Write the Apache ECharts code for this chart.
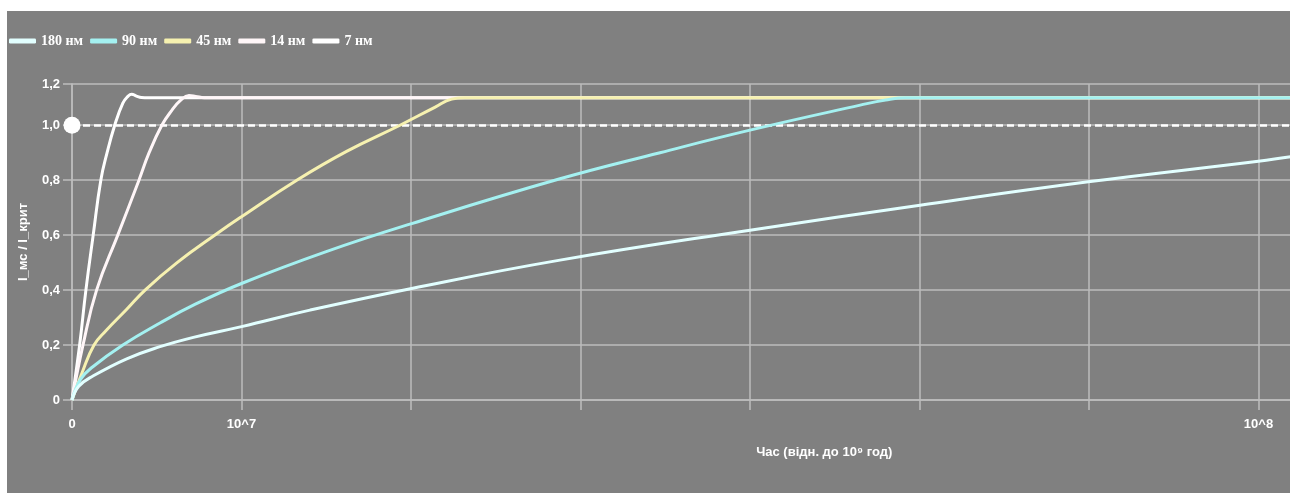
<!DOCTYPE html>
<html>
<head>
<meta charset="utf-8">
<script src="https://cdn.jsdelivr.net/npm/echarts@6/dist/echarts.min.js"></script>
<style>
html,body{margin:0;padding:0;background:#ffffff;overflow:hidden;width:1290px;height:493px;}
#c{position:absolute;left:7px;top:11px;width:1300px;height:482px;background:#808080;}
</style>
</head>
<body>
<div id="c"></div>
<script>
// ---- data (x in axis tick units, y = I_мс / I_крит) ----
var seriesNames = ['180 нм', '90 нм', '45 нм', '14 нм', '7 нм'];
var s180 = [[0,0],[0.04,0.05],[0.126,0.088],[0.323,0.15],[0.519,0.194],[0.716,0.228],[1.0,0.267],[1.404,0.327],[2.004,0.406],[2.879,0.509],[4.0,0.618],[5.003,0.709],[5.996,0.794],[6.999,0.869],[7.2,0.886]];
var s90 = [[0,0],[0.05,0.075],[0.121,0.12],[0.3,0.2],[0.519,0.28],[0.716,0.345],[1.0,0.424],[1.5,0.54],[2.004,0.642],[2.879,0.805],[3.469,0.9],[4.0,0.982],[4.65,1.073],[4.8,1.092],[4.92,1.1],[5.3,1.1],[7.2,1.1]];
var s45 = [[0,0],[0.06,0.1],[0.13,0.2],[0.2,0.252],[0.323,0.33],[0.431,0.4],[0.62,0.5],[0.854,0.605],[1.0,0.667],[1.326,0.8],[1.62,0.905],[1.935,1.0],[2.14,1.065],[2.24,1.095],[2.32,1.1],[2.6,1.1],[7.2,1.1]];
var s14 = [[0,0],[0.065,0.2],[0.145,0.4],[0.27,0.6],[0.395,0.8],[0.455,0.9],[0.53,1.0],[0.59,1.055],[0.64,1.09],[0.69,1.108],[0.73,1.105],[0.78,1.1],[0.9,1.1],[7.2,1.1]];
var s7 = [[0,0],[0.045,0.2],[0.082,0.4],[0.125,0.6],[0.17,0.8],[0.207,0.9],[0.252,1.0],[0.3,1.08],[0.33,1.105],[0.352,1.113],[0.38,1.106],[0.41,1.101],[0.45,1.1],[0.55,1.1],[7.2,1.1]];
var criticalLevel = 1.0;
var xTickValues = [0, 1, 7];
var xTickLabels = ['0', '10^7', '10^8'];
var yTickValues = [0, 0.2, 0.4, 0.6, 0.8, 1.0, 1.15];
var yTickLabels = ['0', '0,2', '0,4', '0,6', '0,8', '1,0', '1,2'];
var colors = ['#e2ffff', '#a4f1f1', '#f6f1b0', '#fff6f8', '#ffffff'];

function lookup(vals, labels, v) {
  for (var i = 0; i < vals.length; i++) { if (Math.abs(vals[i] - v) < 1e-6) return labels[i]; }
  return '';
}

var gridColor = '#bdbdbd';
var chart = echarts.init(document.getElementById('c'), null, {renderer: 'canvas'});
var dataSets = [s180, s90, s45, s14, s7];
var series = dataSets.map(function (d, i) {
  return {
    name: seriesNames[i], type: 'line', data: d, smooth: 0.45, showSymbol: false,
    z: 10 - i,
    lineStyle: {color: colors[i], width: 3},
    itemStyle: {color: colors[i]},
    emphasis: {disabled: true}
  };
});
series[4].markLine = {
  silent: true, symbol: ['circle', 'none'], symbolSize: 17,
  label: {show: false},
  lineStyle: {color: '#ffffff', type: [7, 4], width: 2.5},
  itemStyle: {color: '#ffffff'},
  data: [{yAxis: criticalLevel}]
};

var axisFont = {color: '#ffffff', fontFamily: 'Liberation Sans', fontSize: 13, fontWeight: 'bold'};
chart.setOption({
  animation: false,
  backgroundColor: '#808080',
  color: colors,
  legend: {
    left: 2, top: 23, padding: 0, icon: 'roundRect', itemWidth: 27, itemHeight: 5, itemGap: 7,
    textStyle: {color: '#ffffff', fontFamily: 'Liberation Serif', fontSize: 14, fontWeight: 'bold'},
    data: seriesNames
  },
  grid: {left: 65, top: 73, bottom: 93, right: 14.6},
  xAxis: {
    type: 'value', min: 0, max: 7.2, interval: 1,
    name: 'Час (відн. до 10⁹ год)', nameLocation: 'middle', nameGap: 46,
    nameTextStyle: Object.assign({padding: [0, 0, 0, 284]}, axisFont),
    axisLine: {show: true, lineStyle: {color: gridColor, width: 1.5}},
    axisTick: {show: true, length: 10, lineStyle: {color: gridColor, width: 1.5}},
    axisLabel: Object.assign({margin: 18, showMaxLabel: true,
      formatter: function (v) { return lookup(xTickValues, xTickLabels, v); }}, axisFont),
    splitLine: {show: true, lineStyle: {color: gridColor, width: 1.5}}
  },
  yAxis: {
    type: 'value', min: 0, max: 1.15, interval: 0.2,
    name: 'I_мс / I_крит', nameLocation: 'middle', nameGap: 42,
    nameTextStyle: axisFont,
    axisLine: {show: true, lineStyle: {color: gridColor, width: 1.5}},
    axisTick: {show: true, length: 9, lineStyle: {color: gridColor, width: 1.5}},
    axisLabel: Object.assign({margin: 12, showMaxLabel: true,
      formatter: function (v) { return lookup(yTickValues, yTickLabels, v); }}, axisFont),
    splitLine: {show: true, lineStyle: {color: gridColor, width: 1.5}}
  },
  series: series
});
</script>
</body>
</html>
